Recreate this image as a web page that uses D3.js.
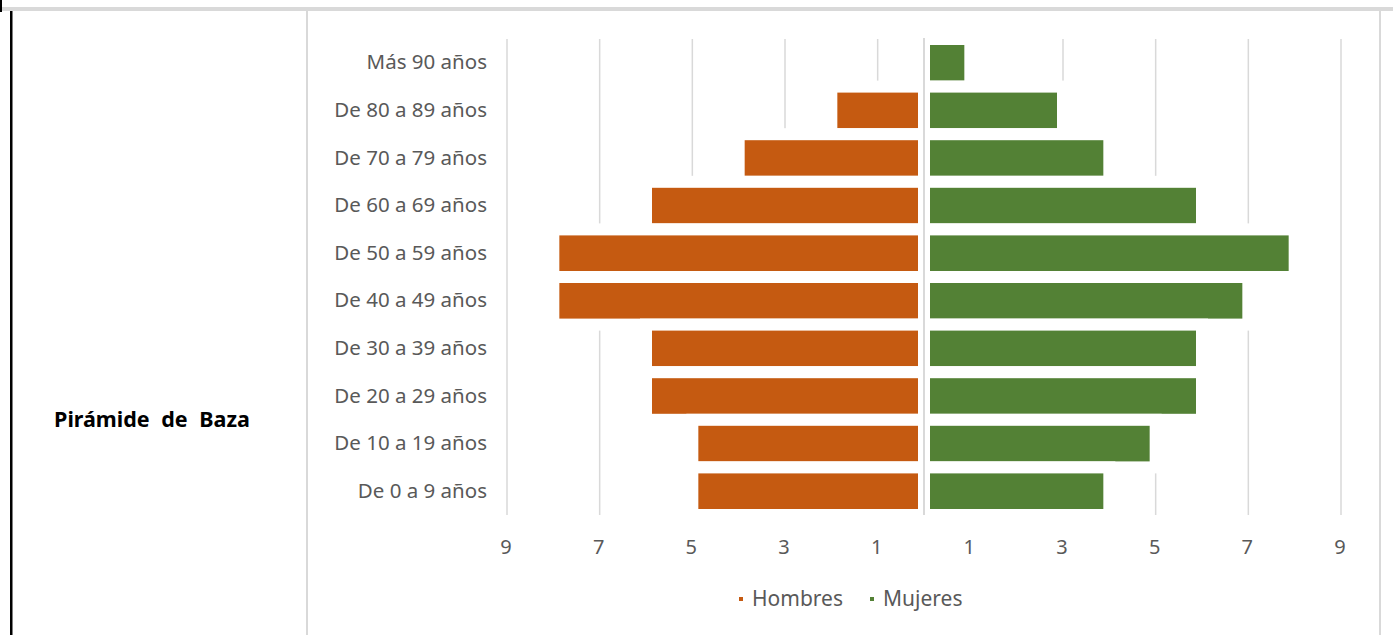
<!DOCTYPE html>
<html>
<head>
<meta charset="utf-8">
<script src="https://cdn.jsdelivr.net/npm/d3@7"></script>
<style>
  html, body { margin: 0; padding: 0; background: #fff; }
  svg { display: block; }
</style>
</head>
<body>
<svg id="chart" width="1393" height="635"></svg>
<script>
const categories = ["Más 90 años", "De 80 a 89 años", "De 70 a 79 años", "De 60 a 69 años", "De 50 a 59 años", "De 40 a 49 años", "De 30 a 39 años", "De 20 a 29 años", "De 10 a 19 años", "De 0 a 9 años"];
const hombres = [0, 2, 4, 6, 8, 8, 6, 6, 5, 5];
const mujeres = [1, 3, 4, 6, 8, 7, 6, 6, 5, 4];
const tickValues = [-9, -7, -5, -3, -1, 1, 3, 5, 7, 9];
const seriesNames = ["Hombres", "Mujeres"];
const colors = ["#C55A11", "#538135"];
const title = "Pirámide de Baza";

const svg = d3.select("#chart");
const W = 1393, H = 635;
const FONT = "'Noto Sans', sans-serif";
const gray = "#595959";

// frame
svg.append("rect").attr("x", 2).attr("y", 7).attr("width", W - 2).attr("height", 4).attr("fill", "#d9d9d9");
svg.append("rect").attr("x", 0).attr("y", 0).attr("width", 2).attr("height", 12).attr("fill", "#000");
svg.append("rect").attr("x", 10).attr("y", 11).attr("width", 2.5).attr("height", H - 11).attr("fill", "#000");
svg.append("rect").attr("x", 306).attr("y", 11).attr("width", 2).attr("height", H - 11).attr("fill", "#d9d9d9");
svg.append("rect").attr("x", 1379).attr("y", 11).attr("width", 2).attr("height", H - 11).attr("fill", "#d9d9d9");

// title
svg.append("text").attr("x", 152).attr("y", 418).attr("text-anchor", "middle").attr("dominant-baseline", "central")
  .attr("font-family", FONT).attr("font-weight", "bold").attr("font-size", 21.5).attr("word-spacing", 6)
  .attr("fill", "#000").text(title);

const x = d3.scaleLinear().domain([-9, 9]).range([507, 1341]);
const y = d3.scaleBand().domain(categories).range([39, 515]).padding(0);

// gridlines
svg.append("g").selectAll("line").data(tickValues).join("line")
  .attr("x1", d => x(d)).attr("x2", d => x(d))
  .attr("y1", y.range()[0]).attr("y2", y.range()[1])
  .attr("stroke", "#d9d9d9").attr("stroke-width", 1.5);

// bars
const rows = categories.map((c, i) => ({ c, h: hombres[i], m: mujeres[i] }));
const gb = svg.append("g");
gb.selectAll("rect.h").data(rows.filter(d => d.h > 0)).join("rect").attr("class", "h")
  .attr("x", d => x(-d.h)).attr("width", d => x(0) - x(-d.h))
  .attr("y", d => y(d.c)).attr("height", y.bandwidth())
  .attr("fill", colors[0]).attr("stroke", "#fff").attr("stroke-width", 12);
gb.selectAll("rect.m").data(rows.filter(d => d.m > 0)).join("rect").attr("class", "m")
  .attr("x", x(0)).attr("width", d => x(d.m) - x(0))
  .attr("y", d => y(d.c)).attr("height", y.bandwidth())
  .attr("fill", colors[1]).attr("stroke", "#fff").attr("stroke-width", 12);

// center axis line
svg.append("line").attr("x1", x(0)).attr("x2", x(0)).attr("y1", y.range()[0] - 1).attr("y2", y.range()[1])
  .attr("stroke", "#d9d9d9").attr("stroke-width", 2);

// category labels
svg.append("g").selectAll("text").data(categories).join("text")
  .attr("x", 487).attr("y", d => y(d) + y.bandwidth() / 2 - 1.5)
  .attr("text-anchor", "end").attr("dominant-baseline", "central")
  .attr("font-family", FONT).attr("font-size", 20.5).attr("fill", gray)
  .text(d => d);

// x axis tick labels
svg.append("g").selectAll("text").data(tickValues).join("text")
  .attr("x", d => x(d) - 1).attr("y", 546)
  .attr("text-anchor", "middle").attr("dominant-baseline", "central")
  .attr("font-family", FONT).attr("font-size", 20).attr("fill", gray)
  .text(d => Math.abs(d));

// legend
const legend = svg.append("g");
const legX = [739, 870];
seriesNames.forEach((n, i) => {
  legend.append("rect").attr("x", legX[i]).attr("y", 597).attr("width", 4).attr("height", 4).attr("fill", colors[i]);
  legend.append("text").attr("x", legX[i] + 13).attr("y", 598).attr("dominant-baseline", "central")
    .attr("font-family", FONT).attr("font-size", 21).attr("fill", gray).text(n);
});
</script>
</body>
</html>
